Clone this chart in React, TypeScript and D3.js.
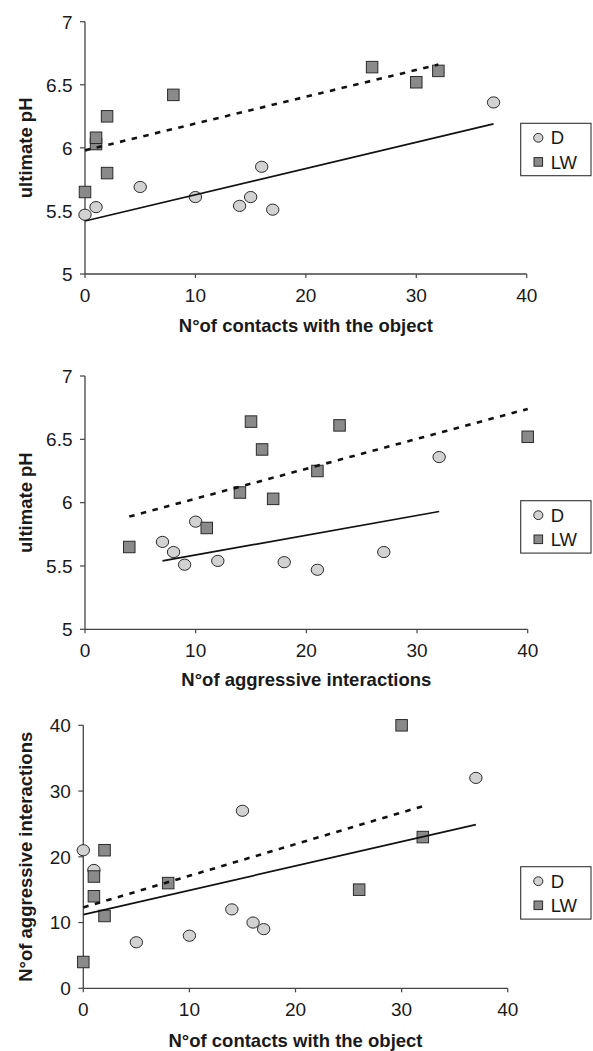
import React from 'react';
import * as d3 from 'd3';

// ---- Data ----
const groups = ['D', 'LW'];

// D animals
const dContacts = [0, 1, 5, 10, 14, 15, 16, 17, 37];
const dAggression = [21, 18, 7, 8, 12, 27, 10, 9, 32];
const dPH = [5.47, 5.53, 5.69, 5.61, 5.54, 5.61, 5.85, 5.51, 6.36];

// LW animals
const lwContacts = [0, 1, 1, 2, 2, 8, 26, 30, 32];
const lwAggression = [4, 17, 14, 21, 11, 16, 15, 40, 23];
const lwPH = [5.65, 6.03, 6.08, 6.25, 5.8, 6.42, 6.64, 6.52, 6.61];

// Trend line end points [x0, x1], [y0, y1]
const trend1D = { x: [0, 37], y: [5.42, 6.19] };
const trend1LW = { x: [0, 32], y: [5.98, 6.66] };
const trend2D = { x: [7, 32], y: [5.54, 5.93] };
const trend2LW = { x: [4, 40], y: [5.89, 6.74] };
const trend3D = { x: [0, 37], y: [11.2, 24.9] };
const trend3LW = { x: [0, 32], y: [12.3, 27.7] };

const xTicks = [0, 10, 20, 30, 40];
const phTicks = [5, 5.5, 6, 6.5, 7];
const aggTicks = [0, 10, 20, 30, 40];

const labelContacts = 'N\u00B0of contacts with the object';
const labelAggression = 'N\u00B0of aggressive interactions';
const labelPH = 'ultimate pH';

const FONT = '"Liberation Sans", Arial, Helvetica, sans-serif';
const AXIS = '#444';
const TEXT = '#1a1a1a';
const CIRCLE_FILL = '#d2d2d2';
const SQUARE_FILL = '#8a8a8a';
const MARK_STROKE = '#2a2a2a';

type Trend = { x: number[]; y: number[] };

type PanelProps = {
  x0: number; x1: number; yTop: number; yBot: number;
  xDomain: [number, number]; yDomain: [number, number];
  yTicks: number[];
  dx: number[]; dy: number[]; lwx: number[]; lwy: number[];
  tD: Trend; tLW: Trend;
  xLabel: string; xLabelY: number; yLabel: string;
  legendTop: number;
};

function Panel(p: PanelProps) {
  const xs = d3.scaleLinear().domain(p.xDomain).range([p.x0, p.x1]);
  const ys = d3.scaleLinear().domain(p.yDomain).range([p.yBot, p.yTop]);
  const line = d3.line<[number, number]>().x((d) => xs(d[0])).y((d) => ys(d[1]));
  const tLine = (t: Trend) => line([[t.x[0], t.y[0]], [t.x[1], t.y[1]]]) || '';
  const sq = 11.5;
  const lgX = 520.7;
  const lgW = 70.3;
  const lgH = 52.4;
  return (
    <g>
      {/* axes */}
      <line x1={p.x0} x2={p.x0} y1={p.yTop} y2={p.yBot} stroke={AXIS} strokeWidth={1.3} />
      <line x1={p.x0} x2={p.x1} y1={p.yBot} y2={p.yBot} stroke={AXIS} strokeWidth={1.3} />
      {p.yTicks.map((t) => (
        <g key={'y' + t}>
          <line x1={p.x0 - 5} x2={p.x0} y1={ys(t)} y2={ys(t)} stroke={AXIS} strokeWidth={1.2} />
          <text x={p.x0 - 12.5} y={ys(t)} dy="0.36em" textAnchor="end" fontSize={19} fill={TEXT} fontFamily={FONT}>
            {String(t)}
          </text>
        </g>
      ))}
      {xTicks.map((t) => (
        <g key={'x' + t}>
          <line x1={xs(t)} x2={xs(t)} y1={p.yBot} y2={p.yBot + 4} stroke={AXIS} strokeWidth={1.2} />
          <text x={xs(t)} y={p.yBot + 28} textAnchor="middle" fontSize={19} fill={TEXT} fontFamily={FONT}>
            {String(t)}
          </text>
        </g>
      ))}
      {/* axis labels */}
      <text x={(p.x0 + p.x1) / 2} y={p.xLabelY} textAnchor="middle" fontSize={18.5} fontWeight="bold" fill={TEXT} fontFamily={FONT}>
        {p.xLabel}
      </text>
      <text
        transform={`translate(32,${(p.yTop + p.yBot) / 2}) rotate(-90)`}
        textAnchor="middle"
        fontSize={18.5}
        fontWeight="bold"
        fill={TEXT}
        fontFamily={FONT}
      >
        {p.yLabel}
      </text>
      {/* D markers */}
      {p.dx.map((v, i) => (
        <ellipse key={'d' + i} cx={xs(v)} cy={ys(p.dy[i])} rx={6.2} ry={5.6} fill={CIRCLE_FILL} stroke={MARK_STROKE} strokeWidth={1} />
      ))}
      {/* LW markers */}
      {p.lwx.map((v, i) => (
        <rect key={'l' + i} x={xs(v) - sq / 2} y={ys(p.lwy[i]) - sq / 2} width={sq} height={sq} fill={SQUARE_FILL} stroke={MARK_STROKE} strokeWidth={1} />
      ))}
      {/* trend lines */}
      <path d={tLine(p.tD)} stroke="#111" strokeWidth={1.7} fill="none" />
      <path d={tLine(p.tLW)} stroke="#111" strokeWidth={2.6} strokeDasharray="5.5,6.5" fill="none" />
      {/* legend */}
      <rect x={lgX} y={p.legendTop} width={lgW} height={lgH} fill="#fff" stroke="#333" strokeWidth={1.1} />
      <ellipse cx={lgX + 17.6} cy={p.legendTop + 14.5} rx={4.6} ry={4.4} fill={CIRCLE_FILL} stroke={MARK_STROKE} strokeWidth={1} />
      <text x={lgX + 30} y={p.legendTop + 14.5} dy="0.36em" fontSize={18.5} fill={TEXT} fontFamily={FONT}>{groups[0]}</text>
      <rect x={lgX + 13.3} y={p.legendTop + 34.3} width={8.6} height={8.6} fill={SQUARE_FILL} stroke={MARK_STROKE} strokeWidth={1} />
      <text x={lgX + 30} y={p.legendTop + 38.6} dy="0.36em" fontSize={18.5} fill={TEXT} fontFamily={FONT}>{groups[1]}</text>
    </g>
  );
}

export default function App() {
  return (
    <svg
      width={593}
      height={1051}
      viewBox="0 0 593 1051"
      style={{ position: 'absolute', left: 0, top: 0, background: '#fff' }}
    >
      <rect x={0} y={0} width={593} height={1051} fill="#fff" />
      <Panel
        x0={85} x1={526.7} yTop={21.7} yBot={274}
        xDomain={[0, 40]} yDomain={[5, 7]} yTicks={phTicks}
        dx={dContacts} dy={dPH} lwx={lwContacts} lwy={lwPH}
        tD={trend1D} tLW={trend1LW}
        xLabel={labelContacts} xLabelY={331.5} yLabel={labelPH}
        legendTop={123.3}
      />
      <Panel
        x0={85} x1={527.7} yTop={376} yBot={629.3}
        xDomain={[0, 40]} yDomain={[5, 7]} yTicks={phTicks}
        dx={dAggression} dy={dPH} lwx={lwAggression} lwy={lwPH}
        tD={trend2D} tLW={trend2LW}
        xLabel={labelAggression} xLabelY={686} yLabel={labelPH}
        legendTop={500.7}
      />
      <Panel
        x0={83.3} x1={507.7} yTop={725.3} yBot={988.3}
        xDomain={[0, 40]} yDomain={[0, 40]} yTicks={aggTicks}
        dx={dContacts} dy={dAggression} lwx={lwContacts} lwy={lwAggression}
        tD={trend3D} tLW={trend3LW}
        xLabel={labelContacts} xLabelY={1046.7} yLabel={labelAggression}
        legendTop={866.7}
      />
    </svg>
  );
}
